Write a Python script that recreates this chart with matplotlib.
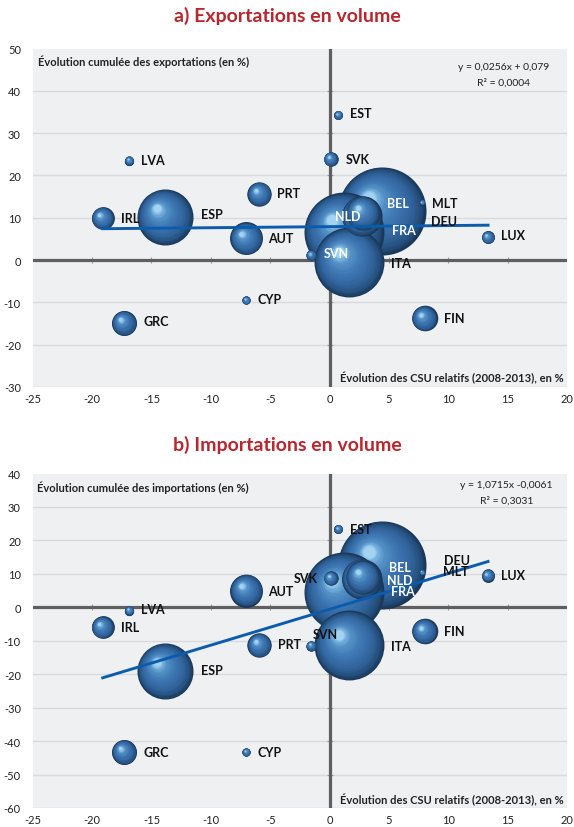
import numpy as np
import matplotlib
matplotlib.use("Agg")
import matplotlib.pyplot as plt
from matplotlib.transforms import offset_copy
from matplotlib.colors import LinearSegmentedColormap

plt.rcParams['font.family'] = ['Lato', 'DejaVu Sans']
plt.rcParams['axes.unicode_minus'] = False

# ---------------- data ----------------
countries = ["DEU", "FRA", "ITA", "ESP", "NLD", "BEL", "AUT", "FIN", "GRC",
             "PRT", "IRL", "SVK", "SVN", "LUX", "LVA", "EST", "CYP", "MLT"]
# Évolution des CSU relatifs (2008-2013), en %
csu = [4.4, 1.2, 1.65, -13.85, 2.7, 2.8, -7.0, 8.0, -17.3,
       -5.9, -19.1, 0.1, -1.55, 13.35, -16.85, 0.75, -7.0, 7.8]
# Évolution cumulée des exportations (en %)
exports = [11.6, 6.6, -0.5, 10.2, 10.4, 11.1, 5.1, -13.8, -14.9,
           15.6, 9.9, 23.9, 1.2, 5.4, 23.5, 34.3, -9.5, 13.6]
# Évolution cumulée des importations (en %)
imports = [12.7, 4.5, -11.3, -19.0, 8.5, 9.0, 5.0, -7.2, -43.3,
           -11.3, -6.0, 8.7, -11.5, 9.5, -1.0, 23.4, -43.3, 10.5]
# bubble weights
weights = [2790, 2300, 1760, 1130, 580, 420, 390, 236, 225,
           213, 185, 74, 38, 60, 31, 29, 25, 11]

xticks = [-25, -20, -15, -10, -5, 0, 5, 10, 15, 20]
yticks_exp = [-30, -20, -10, 0, 10, 20, 30, 40, 50]
yticks_imp = [-60, -50, -40, -30, -20, -10, 0, 10, 20, 30, 40]

eq_exp = ("y = 0,0256x + 0,079", "R² = 0,0004")
eq_imp = ("y = 1,0715x -0,0061", "R² = 0,3031")
slope_exp, intercept_exp = 0.0256, 0.079
slope_imp, intercept_imp = 1.0715, -0.0061

# ---------------- style ----------------
SIZE_SCALE = 1.44
BG = '#eff0f2'
GRID = '#d9dadd'
AXIS = '#5f5f5f'
LINE = '#0b5cad'
TITLE = '#b8262e'

sphere = LinearSegmentedColormap.from_list(
    'sphere',
    [(0.0, '#1a3859'), (0.10, '#25507e'), (0.30, '#33669f'),
     (0.55, '#3e77b2'), (0.80, '#5490c6'), (0.93, '#77b2de'), (1.0, '#a2d3f1')])

# label offsets in pixels (dx, dy) and colours
lab_exp = {"LVA": (12, 1), "IRL": (18, 0), "ESP": (36, 3), "PRT": (18, 1),
           "AUT": (22, 0), "CYP": (11, 1), "GRC": (19, 2), "EST": (12, 2),
           "SVK": (15, 0), "BEL": (24, 10), "NLD": (-27, 0), "MLT": (10, 0),
           "DEU": (49, -10), "FRA": (48, 2), "LUX": (13, 2), "SVN": (13, 2),
           "ITA": (42, -1), "FIN": (19, 0)}
white_exp = {"BEL", "NLD", "FRA", "SVN"}
lab_imp = {"LVA": (12, 2), "IRL": (18, 0), "ESP": (36, 1), "PRT": (19, 1),
           "GRC": (19, 0), "CYP": (11, 0), "AUT": (22, 0), "EST": (12, 0),
           "SVK": (-37, 0), "MLT": (21, 1), "DEU": (62, 5), "BEL": (26, 10),
           "NLD": (25, -1), "FRA": (47, 1), "LUX": (13, 1), "FIN": (19, 0),
           "SVN": (2, 12), "ITA": (42, -1)}
white_imp = {"BEL", "NLD", "FRA"}

W, H = 574, 828
fig = plt.figure(figsize=(W / 100, H / 100), dpi=100)


def draw_panel(ax, yvals, ylim, yticks, ytitle, eq, slope, intercept, labs, whites,
               ytitle_pos, eq_pos):
    ax.set_facecolor(BG)
    ax.set_xlim(-25, 20)
    ax.set_ylim(*ylim)
    for sp in ax.spines.values():
        sp.set_visible(False)
    ax.set_xticks(xticks)
    ax.set_yticks(yticks)
    ax.tick_params(length=0, labelsize=8, colors='#222222')
    ax.tick_params(axis='x', pad=4.5)
    ax.tick_params(axis='y', pad=8.5)
    for yt in yticks[:-1]:
        ax.axhline(yt, color=GRID, lw=1, zorder=1)
    ax.axhline(0, color=AXIS, lw=2.3, zorder=2)
    ax.axvline(0, color=AXIS, lw=2.3, zorder=2)
    ax.plot(xticks[1:-1], [0] * (len(xticks) - 2), ls='none', marker='|', ms=5,
            mew=0.8, color='#9a9a9a', zorder=1.9)
    ax.plot([0] * (len(yticks) - 2), yticks[1:-1], ls='none', marker='_', ms=5,
            mew=0.8, color='#9a9a9a', zorder=1.9)

    # bubbles: largest first, smaller in front
    order = np.argsort(weights)[::-1]
    z = 10
    N = 26
    for i in order:
        x, y, s = csu[i], yvals[i], weights[i] * SIZE_SCALE
        R = np.sqrt(s) / 2.0
        for k in range(N):
            t = k / (N - 1)
            rf = 1 - 0.86 * t
            off = 0.30 * R * t
            tr = offset_copy(ax.transData, fig=fig, x=-off, y=off, units='points')
            ax.scatter([x], [y], s=s * rf ** 2, color=[sphere(t)], linewidths=0,
                       transform=tr, zorder=z)
            z += 0.01
        z += 0.5

    # regression line
    xs = np.array([min(csu), max(csu)])
    ax.plot(xs, (slope * xs / 100 + intercept) * 100, color=LINE, lw=2.1, zorder=200)

    # labels
    for i, c in enumerate(countries):
        dx, dy = labs[c]
        ax.annotate(c, (csu[i], yvals[i]), xytext=(dx, dy), textcoords='offset pixels',
                    ha='left', va='center', fontsize=9, fontweight='bold',
                    color='white' if c in whites else '#111111', zorder=300)

    ax.text(ytitle_pos[0], ytitle_pos[1], ytitle, transform=ax.transAxes,
            ha='left', va='center', fontsize=8, fontweight='bold', color='#222222', zorder=300)
    ax.text(0.994, 0.03 if ylim[0] == -30 else 0.027,
            "Évolution des CSU relatifs (2008-2013), en %", transform=ax.transAxes,
            ha='right', va='center', fontsize=8, fontweight='bold', color='#222222', zorder=300)
    ax.text(eq_pos[0], eq_pos[1], eq[0], transform=ax.transAxes, ha='center',
            va='center', fontsize=7.5, color='#222222', zorder=300)
    ax.text(eq_pos[0], eq_pos[2], eq[1], transform=ax.transAxes, ha='center',
            va='center', fontsize=7.5, color='#222222', zorder=300)


left = 32.7 / W
width = (567 - 32.7) / W
ax1 = fig.add_axes([left, 1 - 388 / H, width, (388 - 49.5) / H])
ax2 = fig.add_axes([left, 1 - 809 / H, width, (809 - 474.5) / H])

draw_panel(ax1, exports, (-30, 50), yticks_exp,
           "Évolution cumulée des exportations (en %)", eq_exp,
           slope_exp, intercept_exp, lab_exp, white_exp,
           (0.01, 0.963), (0.882, 0.948, 0.901))
draw_panel(ax2, imports, (-60, 40), yticks_imp,
           "Évolution cumulée des importations (en %)", eq_imp,
           slope_imp, intercept_imp, lab_imp, white_imp,
           (0.008, 0.96), (0.887, 0.966, 0.921))

fig.text(0.5, 1 - 16 / H, "a) Exportations en volume", ha='center', va='center',
         fontsize=14, fontweight='bold', color=TITLE)
fig.text(0.5, 1 - 445 / H, "b) Importations en volume", ha='center', va='center',
         fontsize=14, fontweight='bold', color=TITLE)

fig.savefig("out.png", dpi=100)
